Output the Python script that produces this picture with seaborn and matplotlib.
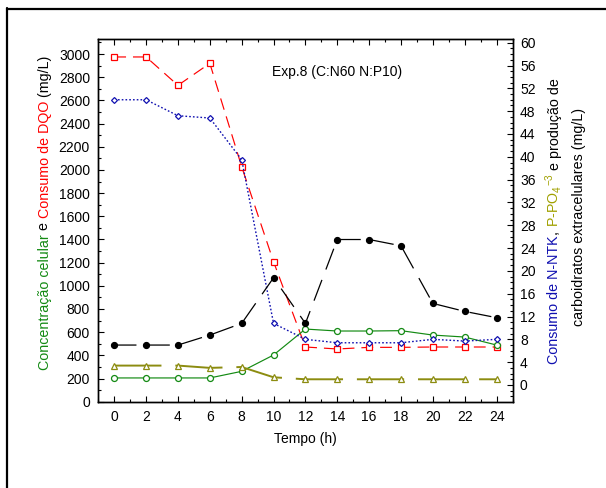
import matplotlib
matplotlib.use("Agg")
import matplotlib.pyplot as plt
import seaborn as sns
import pandas as pd
from matplotlib.ticker import MultipleLocator
from matplotlib.lines import Line2D

# ---- data ----
tempo = [0, 2, 4, 6, 8, 10, 12, 14, 16, 18, 20, 22, 24]
dqo = [2975, 2975, 2730, 2920, 2028, 1208, 472, 455, 469, 469, 472, 472, 472]
celular = [205, 205, 205, 205, 262, 403, 627, 610, 610, 613, 575, 558, 489]
ntk = [50.0, 50.0, 47.2, 46.8, 39.5, 10.8, 8.0, 7.4, 7.4, 7.4, 8.0, 7.7, 8.0]
fosfato = [3.4, 3.4, 3.4, 3.0, 3.15, 1.35, 1.0, 1.0, 1.0, 1.0, 1.0, 1.0, 1.0]
carbo = [7.0, 7.0, 7.0, 8.75, 10.8, 18.8, 10.8, 25.5, 25.5, 24.4, 14.3, 12.9, 11.8]

xticks = list(range(0, 25, 2))
left_ticks = list(range(0, 3001, 200))
right_ticks = list(range(0, 61, 4))

df = pd.DataFrame(dict(tempo=tempo, dqo=dqo, celular=celular, ntk=ntk,
                       fosfato=fosfato, carbo=carbo))

sns.set_theme(style="white")
plt.rcParams["font.family"] = ["Liberation Sans", "DejaVu Sans"]
plt.rcParams["lines.scale_dashes"] = False
plt.rcParams["mathtext.fontset"] = "custom"
plt.rcParams["mathtext.rm"] = "Liberation Sans"
plt.rcParams["mathtext.it"] = "Liberation Sans:italic"
FS = 10

W, H = 606, 488
fig = plt.figure(figsize=(W / 100, H / 100), dpi=100)
ax = fig.add_axes([98.3 / W, 1 - 401.7 / H, (513 - 98.3) / W, (401.7 - 39) / H])
ax2 = ax.twinx()

GREEN = "#138a13"
RED = "#ff0000"
BLUE = "#1010b0"
OLIVE = "#8c8c10"
OLIVE_T = "#a0a000"
BLACK = "#000000"

common = dict(data=df, x="tempo", errorbar=None, legend=False)
sns.lineplot(y="dqo", ax=ax, color=RED, lw=0.85, linestyle=(0, (8.5, 5)),
             marker="s", ms=4.3, mfc="white", mec=RED, mew=0.9, zorder=4, **common)
sns.lineplot(y="celular", ax=ax, color=GREEN, lw=0.85, linestyle="-",
             marker="o", ms=4.3, mfc="white", mec=GREEN, mew=0.9, zorder=4, **common)
sns.lineplot(y="ntk", ax=ax2, color=BLUE, lw=1.0, linestyle=(0, (1.2, 1.5)),
             marker="D", ms=3.0, mfc="white", mec=BLUE, mew=0.9, zorder=4, **common)
sns.lineplot(y="fosfato", ax=ax2, color=OLIVE, lw=1.4, linestyle=(0, (34, 10)),
             marker="^", ms=4.3, mfc="white", mec=OLIVE, mew=0.9, zorder=4, **common)
sns.lineplot(y="carbo", ax=ax2, color=BLACK, lw=0.9, linestyle=(0, (16, 8)),
             marker="o", ms=4.3, mfc=BLACK, mec=BLACK, mew=0.9, zorder=4, **common)

ax.set_xlim(-1, 25.03)
ax.set_ylim(0, 3130)
ax2.set_ylim(-2.93, 60.65)

ax.set_xticks(xticks)
ax.set_yticks(left_ticks)
ax2.set_yticks(right_ticks)
ax.xaxis.set_minor_locator(MultipleLocator(1))
ax.yaxis.set_minor_locator(MultipleLocator(100))
ax2.yaxis.set_minor_locator(MultipleLocator(1))

for a in (ax, ax2):
    for s in a.spines.values():
        s.set_color("black")
        s.set_linewidth(1.0)
ax.tick_params(axis="x", which="both", direction="in", top=True, bottom=True,
               labelsize=FS, colors="black", pad=6)
ax.tick_params(axis="x", which="major", length=4, width=0.8)
ax.tick_params(axis="x", which="minor", length=2.5, width=0.8)
ax.tick_params(axis="y", which="both", direction="in", left=True, right=False,
               labelsize=FS, colors="black", pad=6)
ax.tick_params(axis="y", which="major", length=4, width=0.8)
ax.tick_params(axis="y", which="minor", length=2.5, width=0.8)
ax2.tick_params(axis="y", which="both", direction="in", right=True, left=False,
                labelsize=FS, colors="black", pad=5)
ax2.tick_params(axis="y", which="major", length=4, width=0.8)
ax2.tick_params(axis="y", which="minor", length=2.5, width=0.8)

ax.set_xlabel("Tempo (h)", fontsize=FS, color="black", labelpad=6)
ax.set_ylabel("")
ax2.set_ylabel("")

ax.text(9.9, 2845, "Exp.8 (C:N60 N:P10)", fontsize=FS, color="black",
        ha="left", va="center")

# ---- multicolour rotated labels ----
renderer = fig.canvas.get_renderer()
LFS = 10.3


def text_width(s):
    t = fig.text(0, 0, s, fontsize=LFS)
    w = t.get_window_extent(renderer).width
    t.remove()
    return w


def rotated_label(pieces, x_px, yc_top_px):
    full = "".join(p for p, _ in pieces)
    total = text_width(full)
    bar = text_width("|")
    y0 = (H - yc_top_px) - total / 2
    prefix = ""
    for s, c in pieces:
        off = text_width(prefix + "|") - bar if prefix else 0.0
        fig.text(x_px / W, (y0 + off) / H, s, fontsize=LFS, color=c,
                 rotation=90, rotation_mode="anchor", ha="left", va="baseline")
        prefix += s


rotated_label([("Concentração celular", GREEN), (" e ", BLACK),
               ("Consumo de DQO", RED), (" (mg/L)", BLACK)], 48.5, 213)
rotated_label([("Consumo de N-NTK", BLUE), (", ", BLACK),
               (r"P-PO$_4$$^{-3}$", OLIVE_T), (" e produção de", BLACK)], 558.5, 221)
rotated_label([("carboidratos extracelulares (mg/L)", BLACK)], 582.5, 216.5)

# outer frame (left and top edges)
fig.add_artist(Line2D([7 / W, 7 / W], [0, 1 - 8 / H], transform=fig.transFigure,
                      color="black", lw=1.6))
fig.add_artist(Line2D([7 / W, 1], [1 - 9 / H, 1 - 9 / H], transform=fig.transFigure,
                      color="black", lw=1.6))

fig.savefig("out.png", dpi=100, facecolor="white")
